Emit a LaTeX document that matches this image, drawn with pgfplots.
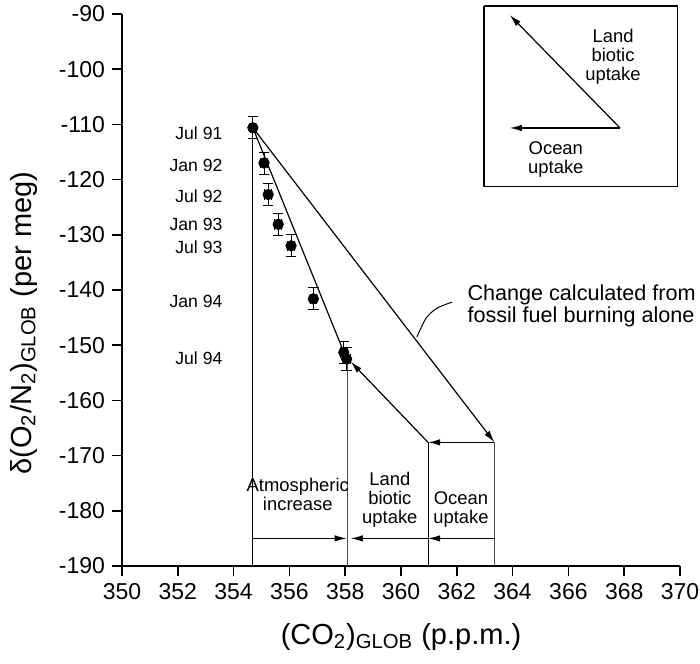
\documentclass[border=0pt]{standalone}
\usepackage{fontspec}
\setmainfont{Liberation Sans}
\usepackage{pgfplots}
\usepackage{pgfplotstable}
\pgfplotsset{compat=1.18}
\usetikzlibrary{arrows.meta}

% observed global means: CO2 (ppm), d(O2/N2) (per meg), errors
\pgfplotstableread{
x y ex ey
354.69 -110.6 0.10 2.0
355.09 -117.0 0.12 2.0
355.24 -122.7 0.12 2.0
355.60 -128.1 0.12 2.0
356.06 -132.0 0.12 2.0
356.86 -141.6 0.12 2.0
357.95 -151.3 0.12 2.0
358.05 -152.5 0.12 2.1
}\obs

\begin{document}
\begin{tikzpicture}[arr/.style={-{Latex[length=6pt,width=3.2pt]}}]
\useasboundingbox (-61pt,-48.5pt) rectangle (289pt,283pt);
\begin{axis}[
    scale only axis,
    width=279pt, height=276pt,
    xmin=350, xmax=370, ymin=-190, ymax=-90,
    axis x line=bottom, axis y line=left,
    axis line style={-, line width=0.9pt},
    tick align=outside, major tick length=5pt,
    tick style={line width=0.8pt, black},
    xtick={350,352,...,370}, ytick={-190,-180,...,-90},
    tick label style={font=\fontsize{11.5}{13}\selectfont},
    /pgf/number format/assume math mode=true,
    /pgf/number format/1000 sep={},
    label style={font=\fontsize{14.5}{16}\selectfont},
    xlabel={(CO\textsubscript{2})\textsubscript{GLOB} (p.p.m.)},
    ylabel={δ(O\textsubscript{2}/N\textsubscript{2})\textsubscript{GLOB} (per meg)},
    xlabel style={at={(ticklabel cs:0.5)}, yshift=-5pt},
    ylabel style={at={(ticklabel cs:0.44)}, yshift=4pt},
    clip=false,
]
% construction lines
\addplot[black, line width=0.6pt] coordinates {(354.69,-110.6) (354.69,-190)};
\addplot[black, line width=0.6pt] coordinates {(354.69,-110.6) (358.05,-152.5)};
\addplot[black, line width=0.6pt, arr] coordinates {(354.69,-110.6) (363.35,-167.6)};
\addplot[black, line width=0.6pt, arr] coordinates {(363.35,-167.6) (360.97,-167.6)};
\addplot[black, line width=0.6pt, arr] coordinates {(360.97,-167.6) (358.2,-153.0)};
\addplot[black!70, line width=0.5pt] coordinates {(358.1,-152.5) (358.1,-190)};
\addplot[black, line width=0.5pt] coordinates {(360.97,-167.6) (360.97,-190)};
\addplot[black!70, line width=0.5pt] coordinates {(363.35,-167.6) (363.35,-190)};
\addplot[black, line width=0.5pt, arr] coordinates {(354.69,-185) (358.05,-185)};
\addplot[black, line width=0.5pt, arr] coordinates {(360.97,-185) (358.2,-185)};
\addplot[black, line width=0.5pt, arr] coordinates {(363.35,-185) (360.97,-185)};
% pointer to the fossil-fuel line
\addplot[black, line width=0.5pt, smooth] coordinates {(361.83,-142.2) (361.29,-143.3) (360.9,-145.1) (360.57,-148.5)};
% inset
\addplot[black, line width=0.7pt] coordinates {(362.97,-88.55) (369.9,-88.55) (369.9,-121.2) (362.97,-121.2) (362.97,-88.55)};
\addplot[black, line width=0.6pt, arr] coordinates {(367.85,-110.65) (363.9,-90.2)};
\addplot[black, line width=0.6pt, arr] coordinates {(367.85,-110.65) (363.9,-110.65)};
% data
\addplot[only marks, mark=*, mark size=2.6pt, black,
    error bars/.cd, x dir=both, x explicit, y dir=both, y explicit,
    error bar style={line width=0.5pt}]
    table[x=x, y=y, x error=ex, y error=ey] {\obs};
% labels
\begin{scope}[font=\fontsize{8.8}{10}\selectfont]
\node[anchor=east] at (axis cs:353.85,-111.6) {Jul 91};
\node[anchor=east] at (axis cs:353.85,-117.4) {Jan 92};
\node[anchor=east] at (axis cs:353.85,-123.0) {Jul 92};
\node[anchor=east] at (axis cs:353.85,-128.2) {Jan 93};
\node[anchor=east] at (axis cs:353.85,-132.2) {Jul 93};
\node[anchor=east] at (axis cs:353.85,-142.0) {Jan 94};
\node[anchor=east] at (axis cs:353.85,-152.3) {Jul 94};
\end{scope}
\begin{scope}[font=\fontsize{9.2}{9.5}\selectfont, align=center]
\node at (axis cs:356.3,-177.0) {Atmospheric\\increase};
\node at (axis cs:359.6,-178.0) {Land\\biotic\\uptake};
\node at (axis cs:362.15,-179.7) {Ocean\\uptake};
\node at (axis cs:367.6,-97.8) {Land\\biotic\\uptake};
\node at (axis cs:365.55,-116.4) {Ocean\\uptake};
\end{scope}
\node[anchor=west, align=left, inner sep=0pt, font=\fontsize{10.8}{11.2}\selectfont] at (axis cs:362.37,-142.9) {Change calculated from\\fossil fuel burning alone};
\end{axis}
\end{tikzpicture}
\end{document}
